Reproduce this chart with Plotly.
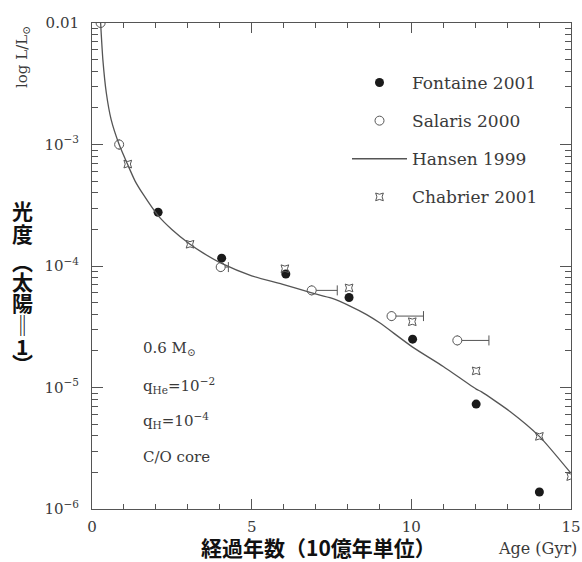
import plotly.graph_objects as go

# ---------------- data ----------------
fontaine_x = [2.07, 4.06, 6.07, 8.05, 10.04, 12.03, 14.01]
fontaine_y = [2.77e-4, 1.16e-4, 8.6e-5, 5.5e-5, 2.5e-5, 7.3e-6, 1.38e-6]

salaris_x = [0.27, 0.85, 4.03, 6.88, 9.38, 11.44]
salaris_y = [1.0e-2, 1.0e-3, 9.8e-5, 6.3e-5, 3.87e-5, 2.44e-5]
salaris_err = [0.0, 0.0, 0.24, 0.8, 1.0, 0.99]

hansen_x = [0.27, 0.34, 0.45, 0.6, 0.85, 1.1, 1.35, 1.6, 2.07, 2.5, 3.07, 3.5,
            4.06, 5.0, 5.95, 6.88, 7.5, 8.08, 8.6, 9.02, 10.04, 11.0, 12.03,
            12.2, 13.09, 14.01, 14.99]
hansen_y = [1.0e-2, 5.0e-3, 2.64e-3, 1.6e-3, 1.0e-3, 7.0e-4, 5.0e-4, 3.9e-4,
            2.6e-4, 2.0e-4, 1.51e-4, 1.27e-4, 1.05e-4, 8.3e-5, 7.1e-5, 6.0e-5,
            5.43e-5, 4.68e-5, 3.98e-5, 3.39e-5, 2.15e-5, 1.49e-5, 9.7e-6,
            9.2e-6, 6.35e-6, 3.96e-6, 1.98e-6]

chabrier_x = [1.12, 3.07, 6.04, 8.05, 10.03, 12.03, 14.01, 14.99]
chabrier_y = [6.9e-4, 1.51e-4, 9.5e-5, 6.6e-5, 3.48e-5, 1.37e-5, 3.96e-6, 1.85e-6]

y_tickvals = [1e-6, 1e-5, 1e-4, 1e-3, 1e-2]
y_ticktext = ["10<sup>−6</sup>", "10<sup>−5</sup>", "10<sup>−4</sup>",
              "10<sup>−3</sup>", "0.01"]
y_minorvals = [m * 10.0 ** e for e in range(-6, -2) for m in range(2, 10)]
x_tickvals = [0, 5, 10, 15]
x_minorvals = list(range(0, 16))

# ---------------- style ----------------
INK = "#1a1a1a"
AX = "#555555"
TXT = "#3a3a3a"
SERIF = "DejaVu Serif"
CJK = "Noto Sans CJK JP"

# figure fills the whole 582x562 page (body margin removed below)
W, H = 582, 562
PL, PR, PT, PB = 92, 571, 23, 509        # plot area edges (page px)
ML, MR, MT, MB = PL, W - PR, PT, H - PB
PW, PH = PR - PL, PB - PT


def px(x):
    return (x - PL) / PW


def py(y):
    return (PB - y) / PH


fig = go.Figure()

fig.add_trace(go.Scatter(
    x=fontaine_x, y=fontaine_y, mode="markers", name="Fontaine 2001",
    legendgroup="f",
    marker=dict(symbol="circle", size=9, color=INK, line=dict(width=0)),
))
fig.add_trace(go.Scatter(
    x=salaris_x, y=salaris_y, mode="markers", name="Salaris 2000",
    legendgroup="s",
    marker=dict(symbol="circle", size=9, color="white",
                line=dict(width=1, color=AX)),
    error_x=dict(type="data", symmetric=False, array=salaris_err,
                 arrayminus=[0] * len(salaris_err), color=AX,
                 thickness=1, width=5),
))
fig.add_trace(go.Scatter(
    x=hansen_x, y=hansen_y, mode="lines", name="Hansen 1999",
    legendgroup="h", line=dict(color=AX, width=1.3, shape="spline",
                               smoothing=0.6),
))
fig.add_trace(go.Scatter(
    x=chabrier_x, y=chabrier_y, mode="markers", name="Chabrier 2001",
    legendgroup="c",
    marker=dict(symbol="star-square-open", size=7, color=AX,
                line=dict(width=1, color=AX)),
))

axis_common = dict(
    showgrid=False, zeroline=False, showline=True, linecolor=AX,
    linewidth=1, mirror="allticks", ticks="inside", tickcolor=AX,
    automargin=False,
    tickfont=dict(family=SERIF, size=15, color=TXT),
)

fig.update_xaxes(
    range=[0, 15], tickmode="array", tickvals=x_tickvals, ticklen=10,
    ticklabelstandoff=4,
    minor=dict(tickmode="array", tickvals=x_minorvals, ticks="inside",
               ticklen=5, tickcolor=AX, showgrid=False),
    **axis_common,
)
fig.update_yaxes(
    type="log", range=[-6, -2], tickmode="array", tickvals=y_tickvals,
    ticktext=y_ticktext, ticklen=11, ticklabelstandoff=9,
    minor=dict(tickmode="array", tickvals=y_minorvals, ticks="inside",
               ticklen=6, tickcolor=AX, showgrid=False),
    **axis_common,
)

annotations = []
# inner parameter notes
notes = [("0.6 M<sub>⊙</sub>", 348),
         ("q<sub>He</sub>=10<sup>−2</sup>", 385),
         ("q<sub>H</sub>=10<sup>−4</sup>", 421),
         ("C/O core", 457)]
for txt, yy in notes:
    annotations.append(dict(text=txt, xref="paper", yref="paper", x=px(141),
                            y=py(yy), xanchor="left", yanchor="middle",
                            showarrow=False,
                            font=dict(family=SERIF, size=15, color=TXT)))

# y-axis small title
annotations.append(dict(text="log L/L<sub>⊙</sub>", xref="paper", yref="paper",
                        x=px(22), y=py(57), textangle=-90, showarrow=False,
                        xanchor="center", yanchor="middle",
                        font=dict(family=SERIF, size=15, color=TXT)))

# vertical Japanese title (one glyph per line, vertical forms)
vchars = [("光", 210), ("度", 233), ("︵", 261), ("太", 281),
          ("陽", 302), ("‖", 324), ("1", 346), ("︶", 363)]
for ch, yy in vchars:
    annotations.append(dict(text="<b>%s</b>" % ch, xref="paper", yref="paper",
                            x=px(22), y=py(yy), showarrow=False,
                            xanchor="center", yanchor="middle",
                            font=dict(family=CJK, size=21, color="#111111")))

# x titles
annotations.append(dict(text="<b>経過年数（10億年単位）</b>", xref="paper",
                        yref="paper", x=px(318), y=py(547), showarrow=False,
                        xanchor="center", yanchor="middle",
                        font=dict(family=CJK, size=21, color="#111111")))
annotations.append(dict(text="Age (Gyr)", xref="paper", yref="paper",
                        x=px(537), y=py(548), showarrow=False,
                        xanchor="center", yanchor="middle",
                        font=dict(family=SERIF, size=16, color=TXT)))

fig.update_layout(
    width=W, height=H,
    margin=dict(l=ML, r=MR, t=MT, b=MB, pad=0, autoexpand=False),
    paper_bgcolor="white", plot_bgcolor="white",
    showlegend=True,
    legend=dict(x=px(347), y=py(65), xanchor="left", yanchor="top",
                bgcolor="rgba(0,0,0,0)", tracegroupgap=13, itemwidth=55,
                font=dict(family=SERIF, size=17, color=TXT)),
    annotations=annotations,
)

fig.write_html(
    "out.html",
    config={"displayModeBar": False},
    post_script="document.body.style.margin='0';"
                "document.body.style.overflow='hidden';",
)
